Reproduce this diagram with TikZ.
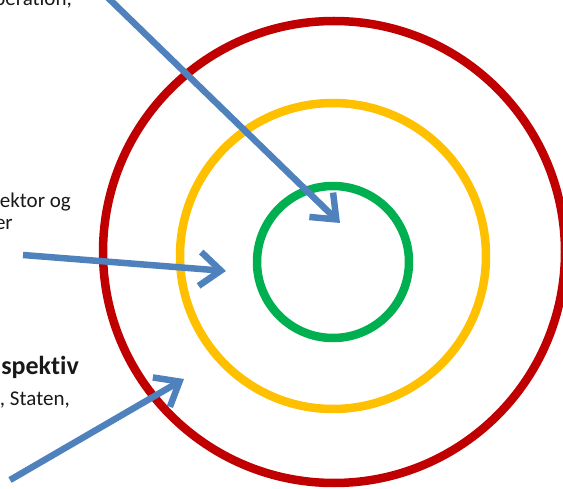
\documentclass[tikz,border=0pt]{standalone}
\usepackage{fontspec}
\setmainfont{Carlito}[Ligatures=NoCommon]
\usetikzlibrary{arrows.meta}
\definecolor{ringred}{HTML}{C00000}
\definecolor{ringyellow}{HTML}{FFC000}
\definecolor{ringgreen}{HTML}{00B050}
\definecolor{pointerblue}{HTML}{4F81BD}
\tikzset{
  ring/.style={line width=8.5pt},
  pointer/.style={line width=6.5pt, color=pointerblue, -{Straight Barb[length=21pt,width=34pt]}},
  snippet/.style={anchor=base east, inner sep=0pt, text=black!90, font=\fontsize{21}{24}\selectfont},
  snippetbold/.style={snippet, font=\fontsize{26}{30}\selectfont\bfseries}
}

\begin{document}
\begin{tikzpicture}[x=1pt,y=-1pt]
			%%%%% START %%%%%
			\useasboundingbox (0,0) rectangle (563,489);
			\clip (0,0) rectangle (563,489);
			
			% rings
			\draw[ring, color=ringred] (334,252) circle[radius=231pt];
			\draw[ring, color=ringyellow] (333,256) circle[radius=153pt];
			\draw[ring, color=ringgreen] (333,262) circle[radius=76pt];
			
			% text fragments
			\node[snippet] (inner) at (72,6) {peration,};
			\node[snippet] (midA) at (71,208) {ektor og};
			\node[snippet] (midB) at (13,230) {er};
			\node[snippetbold] (outer) at (79,374) {spektiv};
			\node[snippet] (outerB) at (70,406) {, Staten,};
			
			% arrows
			\coordinate (innerTail) at (100,-10);
			\coordinate (innerTip) at (340,223);
			\coordinate (midTail) at (23,255);
			\coordinate (midTip) at (226,271);
			\coordinate (outerTail) at (10,480);
			\coordinate (outerTip) at (184,379);
			
			\draw[pointer] (innerTail) -- (innerTip);
			\draw[pointer] (midTail) -- (midTip);
			\draw[pointer] (outerTail) -- (outerTip);
			%%%%% END %%%%%
\end{tikzpicture}
\end{document}
